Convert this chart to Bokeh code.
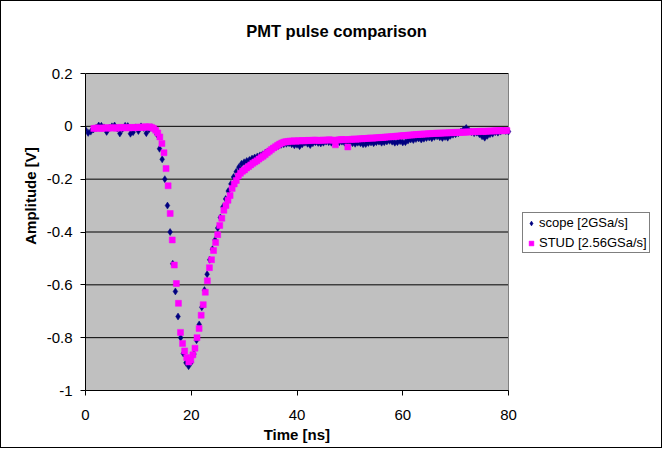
from bokeh.plotting import figure
from bokeh.embed import file_html
from bokeh.resources import INLINE
from bokeh.models import (Legend, LegendItem, FixedTicker, CustomJSTickFormatter,
                          Label, Range1d, Title)

# ---------------- data ----------------
title_text = "PMT pulse comparison"
x_title = "Time [ns]"
y_title = "Amplitude [V]"
series_names = ["scope [2GSa/s]", "STUD [2.56GSa/s]"]

x_min, x_max = 0, 80
y_min, y_max = -1, 0.2
x_ticks = [0, 20, 40, 60, 80]
y_ticks = [-1, -0.8, -0.6, -0.4, -0.2, 0, 0.2]
y_tick_labels = ["-1", "-0.8", "-0.6", "-0.4", "-0.2", "0", "0.2"]

# scope: 2 GSa/s -> one sample every 0.5 ns, starting at 0 ns
scope_dt = 0.5
scope_t0 = 0.0
scope_v = [
    -0.013, -0.025, -0.020, -0.012, -0.006, 0.003, 0.002, -0.004, -0.021, -0.006,
    0.000, 0.003, -0.008, -0.027, -0.010, 0.002, 0.001, -0.028, -0.022, -0.004,
    -0.018, 0.000, -0.006, -0.026, -0.012, -0.004, -0.012, -0.030, -0.085, -0.125,
    -0.200, -0.300, -0.400, -0.520, -0.625, -0.720, -0.800, -0.860, -0.895, -0.908,
    -0.893, -0.862, -0.810, -0.750, -0.685, -0.620, -0.560, -0.505, -0.465, -0.430,
    -0.385, -0.345, -0.305, -0.275, -0.245, -0.218, -0.192, -0.172, -0.155, -0.142,
    -0.136, -0.131, -0.127, -0.122, -0.118, -0.114, -0.110, -0.106, -0.100, -0.095,
    -0.090, -0.084, -0.079, -0.074, -0.070, -0.068, -0.066, -0.064, -0.068, -0.072,
    -0.070, -0.075, -0.068, -0.062, -0.066, -0.071, -0.064, -0.060, -0.063, -0.065,
    -0.062, -0.058, -0.060, -0.062, -0.058, -0.056, -0.060, -0.058, -0.062, -0.057,
    -0.060, -0.064, -0.066, -0.062, -0.064, -0.068, -0.067, -0.063, -0.061, -0.064,
    -0.060, -0.058, -0.062, -0.060, -0.057, -0.055, -0.058, -0.062, -0.060, -0.056,
    -0.061, -0.060, -0.054, -0.050, -0.052, -0.048, -0.046, -0.050, -0.047, -0.044,
    -0.042, -0.045, -0.040, -0.038, -0.041, -0.044, -0.040, -0.043, -0.036, -0.032,
    -0.030, -0.026, -0.020, -0.012, -0.006, -0.015, -0.022, -0.026, -0.024, -0.030,
    -0.038, -0.043, -0.036, -0.030, -0.028, -0.022, -0.024, -0.020, -0.016, -0.018,
    -0.020,
]

# STUD: 2.56 GSa/s -> one sample every 0.390625 ns
stud_dt = 0.390625
stud_t0 = 1.5625
stud_v = [
    -0.008, -0.007, -0.006, -0.007, -0.008, -0.006, -0.005, -0.007, -0.006, -0.005,
    -0.006, -0.007, -0.005, -0.004, -0.006, -0.005, -0.004, -0.006, -0.005, -0.004,
    -0.005, -0.004, -0.003, -0.004, -0.003, -0.002, -0.003, -0.002, -0.004, -0.008,
    -0.015, -0.025, -0.040, -0.065, -0.100, -0.160, -0.225, -0.330, -0.430, -0.525,
    -0.595, -0.670, -0.780, -0.822, -0.850, -0.875, -0.892, -0.885, -0.865, -0.840,
    -0.800, -0.765, -0.715, -0.675, -0.628, -0.585, -0.535, -0.505, -0.470, -0.440,
    -0.410, -0.375, -0.348, -0.318, -0.300, -0.280, -0.262, -0.235, -0.218, -0.205,
    -0.188, -0.178, -0.170, -0.165, -0.158, -0.152, -0.146, -0.140, -0.135, -0.130,
    -0.124, -0.118, -0.113, -0.107, -0.100, -0.094, -0.088, -0.082, -0.077, -0.072,
    -0.067, -0.063, -0.060, -0.058, -0.057, -0.056, -0.056, -0.055, -0.056, -0.055,
    -0.055, -0.054, -0.055, -0.054, -0.053, -0.054, -0.053, -0.052, -0.053, -0.054,
    -0.053, -0.052, -0.053, -0.052, -0.051, -0.052, -0.053, -0.070, -0.052, -0.051,
    -0.050, -0.051, -0.050, -0.078, -0.050, -0.049, -0.048, -0.049, -0.048, -0.047,
    -0.047, -0.046, -0.046, -0.045, -0.044, -0.045, -0.044, -0.043, -0.043, -0.042,
    -0.042, -0.041, -0.040, -0.040, -0.039, -0.039, -0.038, -0.037, -0.037, -0.036,
    -0.035, -0.035, -0.034, -0.033, -0.033, -0.032, -0.031, -0.031, -0.030, -0.030,
    -0.029, -0.029, -0.028, -0.028, -0.027, -0.027, -0.026, -0.026, -0.026, -0.025,
    -0.025, -0.025, -0.024, -0.024, -0.024, -0.023, -0.023, -0.023, -0.022, -0.022,
    -0.022, -0.021, -0.021, -0.021, -0.020, -0.020, -0.020, -0.019, -0.019, -0.019,
    -0.019, -0.018, -0.018, -0.018, -0.017, -0.017, -0.017, -0.016, -0.017, -0.016,
    -0.016,
]

# sample time grids from the instruments' sampling intervals
scope_t = [scope_t0 + i * scope_dt for i in range(len(scope_v))]
stud_t = [stud_t0 + i * stud_dt for i in range(len(stud_v))]

# ---------------- layout (pixels) ----------------
FONT = "Liberation Sans"
FIG_W, FIG_H = 662, 448
PA_LEFT, PA_W = 84, 423       # plot area left edge and width
PA_TOP, PA_H = 72, 317        # plot area top edge and height
TITLE_CX, TITLE_CY = 335, 29  # chart title centre
XTITLE_CX = PA_W / 2          # x-axis title centre, from plot-area left

# the frame extends to the right and top edges so that the legend and
# title (drawn inside it) are not clipped; the grey plot area keeps the
# original 0..80 / -1..0.2 box
x_end = x_min + (x_max - x_min) * (FIG_W - PA_LEFT) / PA_W
y_end = y_min + (y_max - y_min) * (PA_TOP + PA_H) / PA_H

p = figure(
    width=FIG_W, height=FIG_H, title=None,
    x_range=Range1d(x_min, x_end), y_range=Range1d(y_min, y_end),
    output_backend="svg", toolbar_location=None,
    min_border_left=PA_LEFT, min_border_right=0,
    min_border_top=0, min_border_bottom=FIG_H - PA_TOP - PA_H,
    background_fill_color="white",
    border_fill_color="white",
)
p.styles = {"border": "1px solid black"}
p.outline_line_color = None
p.xgrid.visible = False
p.ygrid.visible = False

# grey plot area, grid lines and right border
p.quad(left=[x_min], right=[x_max], bottom=[y_min], top=[y_max],
       fill_color="#C0C0C0", line_color=None, level="underlay")
p.segment(x0=[x_min] * len(y_ticks), x1=[x_max] * len(y_ticks),
          y0=y_ticks, y1=y_ticks, line_color="black", line_width=1,
          level="underlay")
p.segment(x0=[x_max], x1=[x_max], y0=[y_min], y1=[y_max],
          line_color="#808080", line_width=1, level="underlay")

# axes
p.xaxis.ticker = FixedTicker(ticks=x_ticks)
p.yaxis.ticker = FixedTicker(ticks=y_ticks)
p.xaxis.bounds = (x_min, x_max)
p.yaxis.bounds = (y_min, y_max)
p.yaxis.formatter = CustomJSTickFormatter(
    args=dict(tvals=y_ticks, tlabels=y_tick_labels),
    code="""
    for (let i = 0; i < tvals.length; i++) {
        if (Math.abs(tvals[i] - tick) < 1e-9) { return tlabels[i]; }
    }
    return String(tick);
    """,
)

for ax in (p.xaxis[0], p.yaxis[0]):
    ax.axis_line_color = "black"
    ax.major_tick_line_color = "black"
    ax.minor_tick_line_color = None
    ax.major_tick_in = 0
    ax.major_tick_out = 5
    ax.major_label_text_font = FONT
    ax.major_label_text_font_size = "15px"
    ax.major_label_text_color = "black"
    ax.axis_label_text_font = FONT
    ax.axis_label_text_font_size = "15px"
    ax.axis_label_text_font_style = "bold"
    ax.axis_label_text_color = "black"

p.yaxis.axis_label = y_title
p.xaxis.major_label_standoff = 14
p.yaxis.major_label_standoff = 8
p.yaxis.axis_label_standoff = 5

# x-axis title, centred under the grey plot area (not the wider frame)
xt_font_px = 15
xt_width = 4.445 * xt_font_px  # approx. width of the bold text
p.add_layout(Title(
    text=x_title, align="left", offset=XTITLE_CX - xt_width / 2,
    text_font=FONT, text_font_size=f"{xt_font_px}px", text_font_style="bold",
    text_color="black", standoff=3,
), "below")

# data
r_scope = p.scatter(scope_t, scope_v, marker="diamond", size=7,
                    fill_color="#000080", line_color="#000080", line_width=0.5)
r_stud = p.scatter(stud_t, stud_v, marker="square", size=6,
                   fill_color="#FF00FF", line_color="#FF00FF", line_width=0.5)

# chart title
px_x = (x_max - x_min) / PA_W
px_y = (y_max - y_min) / PA_H
p.add_layout(Label(
    x=x_min + (TITLE_CX - PA_LEFT) * px_x,
    y=y_end - TITLE_CY * px_y,
    text=title_text, text_align="center", text_baseline="middle",
    text_font=FONT, text_font_size="16.5px", text_font_style="bold",
    text_color="black",
))

legend = Legend(
    items=[LegendItem(label=series_names[0], renderers=[r_scope]),
           LegendItem(label=series_names[1], renderers=[r_stud])],
    location=(437, 137),
    orientation="vertical",
    border_line_color="black", border_line_width=1,
    background_fill_color="white", background_fill_alpha=1,
    label_text_font=FONT, label_text_font_size="13px",
    label_text_color="black",
    glyph_width=12, glyph_height=12,
    label_standoff=2, padding=2, spacing=5, margin=0,
)
p.add_layout(legend, "center")

open("out.html", "w").write(file_html(p, INLINE))
